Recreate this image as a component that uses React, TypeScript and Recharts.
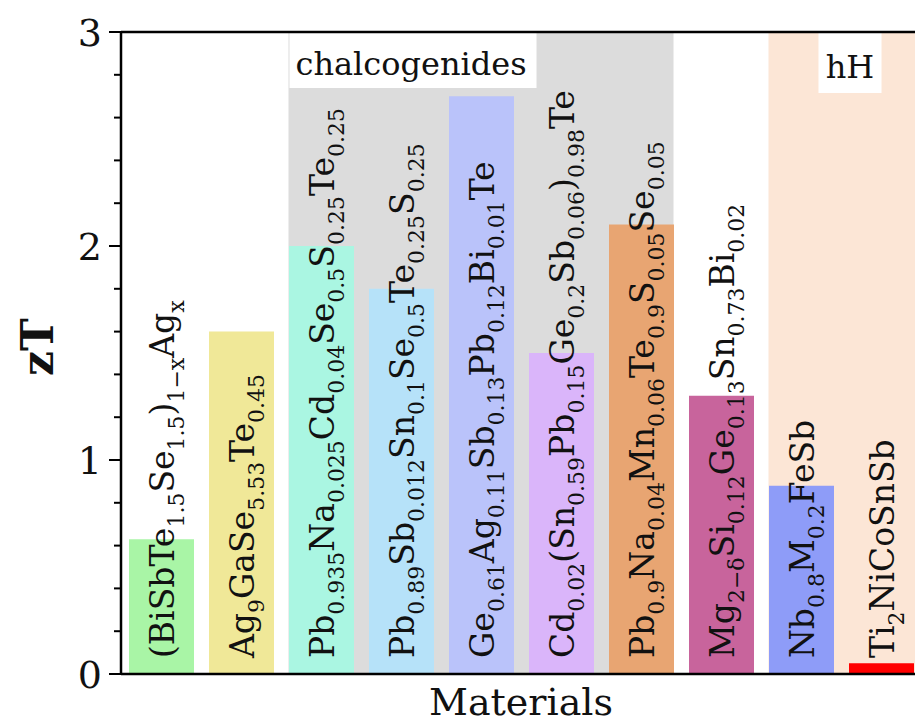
import { Bar, BarChart, Cell, LabelList, ReferenceArea, ReferenceLine, XAxis, YAxis } from "recharts"

// Chemical formulas, "_{...}" marks a subscript
const formulas = [
  "(BiSbTe_{1.5}Se_{1.5})_{1−x}Ag_{x}",
  "Ag_{9}GaSe_{5.53}Te_{0.45}",
  "Pb_{0.935}Na_{0.025}Cd_{0.04}Se_{0.5}S_{0.25}Te_{0.25}",
  "Pb_{0.89}Sb_{0.012}Sn_{0.1}Se_{0.5}Te_{0.25}S_{0.25}",
  "Ge_{0.61}Ag_{0.11}Sb_{0.13}Pb_{0.12}Bi_{0.01}Te",
  "Cd_{0.02}(Sn_{0.59}Pb_{0.15}Ge_{0.2}Sb_{0.06})_{0.98}Te",
  "Pb_{0.9}Na_{0.04}Mn_{0.06}Te_{0.9}S_{0.05}Se_{0.05}",
  "Mg_{2−δ}Si_{0.12}Ge_{0.13}Sn_{0.73}Bi_{0.02}",
  "Nb_{0.8}M_{0.2}FeSb",
  "Ti_{2}NiCoSnSb",
]
const zTValues = [0.63, 1.6, 2.0, 1.8, 2.7, 1.5, 2.1, 1.3, 0.88, 0.05]
const barColors = [
  "#a9f5a6", "#f0e898", "#aaf6e2", "#b6e2f9", "#bac3fa",
  "#dab5fa", "#e8a572", "#c8649c", "#8e9cf8", "#ff0000",
]
const yTicks = [0, 0.2, 0.4, 0.6, 0.8, 1, 1.2, 1.4, 1.6, 1.8, 2, 2.2, 2.4, 2.6, 2.8, 3]
const groupNames = ["chalcogenides", "hH"]

const data = formulas.map((formula, i) => ({ formula, zT: zTValues[i] }))

const FONT = "'DejaVu Serif', serif"
const W = 960
const H = 726
const MARGIN = { top: 32, right: 39, bottom: 0, left: 0 }
const Y_AXIS_W = 121
const X_AXIS_H = 52
const AXIS_X = MARGIN.left + Y_AXIS_W
const PLOT_W = W - AXIS_X - MARGIN.right
const PLOT_BOTTOM = H - MARGIN.bottom - X_AXIS_H
const BAR_W = 65
const INSET = (PLOT_W / formulas.length - BAR_W) / 2
const MAIN_SIZE = 33
const SUB_SIZE = 22
const SUB_SHIFT = 10

function parseFormula(s: string) {
  const parts: { text: string; sub: boolean }[] = []
  const re = /_\{([^}]*)\}|([^_]+)/g
  let m: RegExpExecArray | null
  while ((m = re.exec(s))) {
    if (m[1] !== undefined) parts.push({ text: m[1], sub: true })
    else parts.push({ text: m[2], sub: false })
  }
  return parts
}

// vertical formula written bottom-up inside each bar
function FormulaLabel(props: any) {
  const vb = props.viewBox ?? props
  const { x, width } = vb
  const tx = x + width / 2 + 12
  const ty = PLOT_BOTTOM - 16
  let shift = 0
  return (
    <text x={tx} y={ty} transform={`rotate(-90, ${tx}, ${ty})`} fontFamily={FONT} fontSize={MAIN_SIZE} fill="#111">
      {parseFormula(String(props.value)).map((p, i) => {
        const target = p.sub ? SUB_SHIFT : 0
        const dy = target - shift
        shift = target
        return (
          <tspan key={i} dy={dy} fontSize={p.sub ? SUB_SIZE : MAIN_SIZE}>
            {p.text}
          </tspan>
        )
      })}
    </text>
  )
}

function YTick(props: any) {
  const { y, payload } = props
  const v = payload.value as number
  const major = Number.isInteger(v)
  return (
    <g>
      <line x1={AXIS_X - (major ? 12 : 7)} x2={AXIS_X} y1={y} y2={y} stroke="#000" strokeWidth={2} />
      {major && (
        <text x={AXIS_X - 19} y={y} dy="0.36em" textAnchor="end" fontFamily={FONT} fontSize={38} fill="#111">
          {v}
        </text>
      )}
    </g>
  )
}

function ChalcoRegion(props: any) {
  const { x, y, width, height } = props
  const left = x + INSET
  return (
    <g>
      <rect x={left} y={y} width={width - 2 * INSET} height={height} fill="#dcdcdc" />
      <rect x={left + 1} y={y} width={247} height={56} fill="#fff" />
      <text x={left + 7} y={y + 43} fontFamily={FONT} fontSize={32} fill="#111">
        {groupNames[0]}
      </text>
    </g>
  )
}

function HalfHeuslerRegion(props: any) {
  const { x, y, width, height } = props
  const left = x + INSET
  return (
    <g>
      <rect x={left} y={y} width={width - INSET} height={height} fill="#fce6d6" />
      <rect x={left + 50} y={y} width={63} height={61} fill="#fff" />
      <text x={left + 81.5} y={y + 46} textAnchor="middle" fontFamily={FONT} fontSize={32} fill="#111">
        {groupNames[1]}
      </text>
    </g>
  )
}

export default function App() {
  return (
    <div style={{ position: "fixed", left: 0, top: 0, width: 915, height: 726, overflow: "hidden", background: "#fff" }}>
      <BarChart width={W} height={H} data={data} margin={MARGIN}>
        <ReferenceArea x1={formulas[2]} x2={formulas[6]} shape={ChalcoRegion} />
        <ReferenceArea x1={formulas[8]} x2={formulas[9]} shape={HalfHeuslerRegion} />
        <XAxis
          dataKey="formula"
          height={X_AXIS_H}
          tick={false}
          tickLine={false}
          axisLine={{ stroke: "#000", strokeWidth: 2.5 }}
          label={{
            content: () => (
              <text x={AXIS_X + PLOT_W / 2} y={715} textAnchor="middle" fontFamily={FONT} fontSize={38} fill="#111">
                Materials
              </text>
            ),
          }}
        />
        <YAxis
          width={Y_AXIS_W}
          domain={[0, 3]}
          ticks={yTicks}
          interval={0}
          tickLine={false}
          tick={YTick}
          axisLine={{ stroke: "#000", strokeWidth: 2.5 }}
          label={{
            content: () => (
              <text
                x={53}
                y={347}
                transform="rotate(-90, 53, 347)"
                textAnchor="middle"
                fontFamily={FONT}
                fontSize={44}
                fontWeight="bold"
                fill="#111"
              >
                zT
              </text>
            ),
          }}
        />
        <ReferenceLine y={3} stroke="#000" strokeWidth={2.5} />
        <Bar dataKey="zT" barSize={BAR_W} isAnimationActive={false}>
          {data.map((d, i) => (
            <Cell key={d.formula} fill={barColors[i]} />
          ))}
          <LabelList dataKey="formula" content={FormulaLabel} />
        </Bar>
      </BarChart>
    </div>
  )
}
